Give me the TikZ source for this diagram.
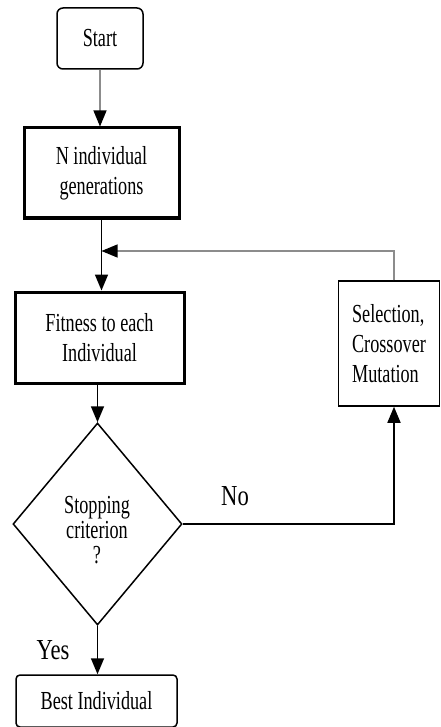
\documentclass[tikz,border=0pt]{standalone}
\usepackage{fontspec}
\setmainfont{Liberation Serif}
\newfontfamily\bodyfont[FakeStretch=0.7]{Liberation Serif}
\newfontfamily\ynfont[FakeStretch=0.78]{Liberation Serif}
\usetikzlibrary{shapes.geometric,arrows.meta}
\begin{document}
\begin{tikzpicture}[x=1pt,y=-1pt,
  txt/.style={font=\bodyfont\fontsize{26}{30}\selectfont, align=center},
  thinbox/.style={draw=black, line width=1.5pt, inner sep=0pt, txt},
  thickbox/.style={draw=black, line width=3pt, inner sep=0pt, txt},
  tip/.style={-{Triangle[length=16pt,width=13pt,color=black]}},
  gline/.style={draw=black!45, line width=1.2pt, tip},
  bline/.style={draw=black, line width=1.6pt, tip},
  yn/.style={font=\ynfont\fontsize{29}{32}\selectfont, inner sep=0pt}]
\useasboundingbox (0,0) rectangle (440,727);

\node[thinbox, rounded corners=6pt, minimum width=86pt, minimum height=61pt] (start) at (100,38.5) {Start};
\node[thickbox, minimum width=155pt, minimum height=90pt] (gen) at (101.5,173) {N individual\\generations};
\node[thickbox, minimum width=169pt, minimum height=91pt] (fit) at (99.5,337.5) {Fitness to each\\Individual};
\node[thinbox, minimum width=101pt, minimum height=125pt, align=left] (sel) at (389,343.5) {Selection,\\Crossover\\Mutation};
\node[draw=black, line width=1.5pt, diamond, shape aspect=0.8366, minimum width=169pt, minimum height=202pt, inner sep=0pt] (dec) at (97.5,524) {};
\node[txt, font=\bodyfont\fontsize{26}{25}\selectfont, inner sep=0pt] (dectext) at (97,530) {Stopping\\criterion\\?};
\node[thinbox, rounded corners=4pt, minimum width=161pt, minimum height=52pt] (best) at (96.5,701) {Best Individual};

\node[yn] (no) at (235,496) {No};
\node[yn] (yes) at (53,650) {Yes};

\coordinate (j) at (101.5,251);

\draw[gline] (start.south) -- (start.south |- gen.north);
\draw[bline] (gen.south) -- (gen.south |- fit.north);
\draw[gline] ([xshift=5pt]sel.north) |- (j);
\draw[bline] (dec.north |- fit.south) -- (dec.north);
\draw[bline] (dec.east) -| ([xshift=5pt]sel.south);
\draw[bline] (dec.south) -- (dec.south |- best.north);
\end{tikzpicture}
\end{document}
